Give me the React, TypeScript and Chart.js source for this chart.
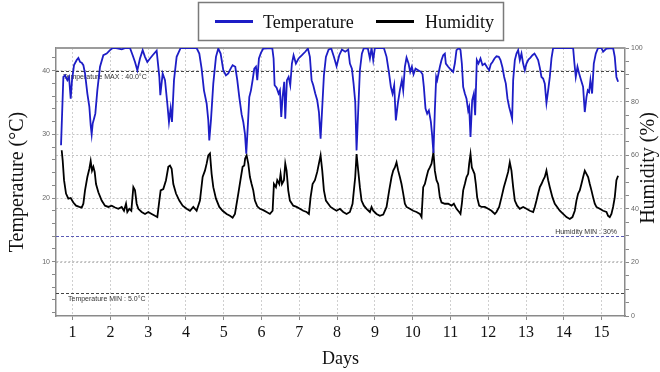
import { useEffect, useRef } from 'react';
import { Chart, registerables } from 'chart.js';

Chart.register(...registerables);

// Legend labels as they appear in the reference
const legendLabels = ['Temperature', 'Humidity'];
const legendColors = ['#1d1dc6', '#000000'];

// Blue series (drawn against the right-hand 0-100 % scale)
const blueDays = [
  0.693, 0.755, 0.799, 0.861, 0.905, 0.949, 0.984, 1.037, 1.108, 1.152, 1.196, 1.24, 1.284, 1.328, 1.39, 1.443,
  1.478, 1.504, 1.531, 1.566, 1.601, 1.654, 1.725, 1.813, 1.901, 1.989, 2.06, 2.15, 2.3, 2.4, 2.518, 2.589,
  2.651, 2.713, 2.783, 2.854, 2.915, 2.977, 3.048, 3.118, 3.224, 3.295, 3.321, 3.383, 3.445, 3.506, 3.55, 3.594,
  3.63, 3.683, 3.753, 3.859, 4.282, 4.353, 4.414, 4.476, 4.547, 4.591, 4.617, 4.661, 4.723, 4.794, 4.855, 4.917,
  4.988, 5.058, 5.12, 5.182, 5.235, 5.305, 5.358, 5.411, 5.473, 5.517, 5.561, 5.596, 5.64, 5.676, 5.72, 5.764,
  5.808, 5.852, 5.887, 5.931, 5.984, 6.046, 6.284, 6.319, 6.346, 6.399, 6.451, 6.487, 6.522, 6.557, 6.601, 6.628,
  6.672, 6.716, 6.76, 6.804, 6.848, 6.91, 6.981, 7.069, 7.157, 7.228, 7.28, 7.325, 7.369, 7.422, 7.474, 7.519,
  7.563, 7.607, 7.651, 7.704, 7.774, 7.845, 7.915, 7.986, 8.057, 8.127, 8.215, 8.295, 8.339, 8.392, 8.436, 8.48,
  8.515, 8.559, 8.603, 8.656, 8.709, 8.815, 8.868, 8.912, 8.956, 9.0, 9.238, 9.309, 9.37, 9.423, 9.467, 9.511,
  9.555, 9.608, 9.661, 9.714, 9.75, 9.794, 9.838, 9.891, 9.935, 9.979, 10.023, 10.076, 10.146, 10.217, 10.261, 10.296,
  10.34, 10.384, 10.429, 10.482, 10.515, 10.55, 10.587, 10.623, 10.649, 10.684, 10.72, 10.764, 10.808, 10.852, 10.878, 10.94,
  10.984, 11.028, 11.072, 11.116, 11.16, 11.231, 11.266, 11.302, 11.337, 11.381, 11.425, 11.469, 11.496, 11.531, 11.575, 11.619,
  11.654, 11.698, 11.742, 11.795, 11.848, 11.91, 11.972, 12.025, 12.069, 12.113, 12.166, 12.219, 12.28, 12.325, 12.377, 12.422,
  12.466, 12.51, 12.554, 12.589, 12.633, 12.66, 12.704, 12.748, 12.792, 12.836, 12.88, 12.924, 12.968, 13.012, 13.065, 13.118,
  13.171, 13.224, 13.277, 13.321, 13.365, 13.409, 13.453, 13.497, 13.541, 13.586, 13.63, 13.674, 13.718, 14.247, 14.282, 14.317,
  14.362, 14.406, 14.458, 14.511, 14.555, 14.6, 14.635, 14.67, 14.705, 14.749, 14.794, 14.847, 14.908, 14.996, 15.04, 15.129,
  15.305, 15.349, 15.393, 15.437,
];
const blueValues = [
  63.7, 89.2, 89.8, 88.0, 89.2, 81.1, 88.0, 93.6, 95.5, 96.3, 94.8, 94.5, 93.6, 90.5, 83.0, 78.0,
  71.2, 67.8, 71.8, 73.6, 75.5, 84.2, 93.0, 97.3, 97.9, 99.2, 100, 100, 99.5, 100, 100, 97.3,
  94.8, 91.7, 96.1, 99.2, 96.7, 94.8, 96.1, 97.3, 99.0, 89.2, 82.4, 90.5, 88.0, 79.3, 72.4, 77.4,
  72.4, 88.0, 96.7, 100, 100, 97.9, 92.3, 84.2, 79.3, 73.0, 65.5, 73.0, 86.7, 96.7, 99.8, 97.9,
  91.7, 89.8, 90.5, 92.3, 93.6, 93.0, 88.0, 81.7, 75.2, 72.4, 68.0, 60.6, 71.8, 81.7, 84.2, 88.0,
  92.3, 93.0, 88.0, 96.1, 98.2, 99.8, 100, 96.1, 86.1, 85.2, 83.0, 84.2, 74.3, 81.7, 87.4, 73.6,
  88.0, 89.2, 86.1, 94.2, 97.3, 94.2, 96.1, 97.3, 98.6, 99.8, 96.7, 88.0, 86.1, 83.0, 80.5, 76.1,
  66.2, 78.0, 89.8, 96.7, 99.4, 99.8, 96.7, 93.2, 97.3, 99.4, 98.6, 99.4, 94.2, 92.3, 86.7, 79.9,
  61.8, 76.7, 91.7, 97.9, 100, 99.8, 96.1, 100, 95.5, 100, 100, 96.7, 91.1, 85.5, 83.0, 86.1,
  73.0, 79.3, 84.2, 88.0, 84.2, 93.0, 96.4, 94.2, 91.1, 93.0, 90.2, 92.3, 91.7, 91.1, 90.2, 85.5,
  77.4, 75.5, 76.7, 72.4, 67.5, 60.8, 76.7, 89.2, 88.0, 90.5, 93.0, 95.5, 97.3, 97.9, 94.2, 93.0,
  92.3, 91.7, 91.1, 94.2, 99.2, 100, 99.2, 94.2, 85.5, 83.0, 81.1, 76.7, 78.0, 66.8, 80.5, 83.0,
  74.9, 95.5, 94.2, 96.1, 93.6, 94.2, 92.7, 91.7, 94.0, 94.8, 96.1, 96.9, 96.7, 95.5, 92.7, 89.2,
  86.7, 81.1, 78.0, 76.1, 73.6, 88.0, 95.5, 97.9, 99.2, 95.5, 97.9, 94.2, 91.7, 94.2, 95.7, 96.4,
  97.3, 97.9, 96.7, 95.5, 92.7, 89.2, 88.6, 86.7, 79.5, 84.2, 89.2, 96.1, 100, 100, 94.2, 89.2,
  93.0, 90.5, 88.0, 85.5, 76.1, 81.7, 84.2, 83.6, 88.0, 83.0, 94.2, 97.9, 100, 100, 98.6, 99.8,
  100, 96.7, 89.2, 87.4,
];

// Black series (drawn against the left-hand °C scale)
const blackDays = [
  0.711, 0.737, 0.773, 0.825, 0.887, 0.949, 1.019, 1.09, 1.178, 1.24, 1.284, 1.328, 1.39, 1.443, 1.478, 1.513,
  1.549, 1.584, 1.619, 1.681, 1.769, 1.857, 1.946, 2.034, 2.122, 2.21, 2.298, 2.36, 2.413, 2.448, 2.501, 2.554,
  2.607, 2.651, 2.695, 2.739, 2.827, 2.916, 3.003, 3.092, 3.18, 3.242, 3.295, 3.33, 3.4, 3.471, 3.533, 3.577,
  3.621, 3.665, 3.736, 3.824, 3.912, 4.018, 4.106, 4.194, 4.282, 4.37, 4.441, 4.502, 4.547, 4.591, 4.635, 4.679,
  4.723, 4.794, 4.882, 4.97, 5.076, 5.164, 5.235, 5.296, 5.385, 5.447, 5.499, 5.543, 5.566, 5.605, 5.649, 5.693,
  5.737, 5.781, 5.825, 5.887, 5.958, 6.046, 6.134, 6.222, 6.293, 6.328, 6.381, 6.416, 6.469, 6.504, 6.54, 6.593,
  6.628, 6.663, 6.707, 6.751, 6.84, 6.928, 7.016, 7.104, 7.192, 7.254, 7.298, 7.351, 7.413, 7.474, 7.518, 7.563,
  7.607, 7.651, 7.704, 7.765, 7.827, 7.898, 7.986, 8.074, 8.162, 8.251, 8.339, 8.409, 8.444, 8.48, 8.515, 8.559,
  8.603, 8.647, 8.709, 8.78, 8.868, 8.912, 8.956, 9.044, 9.132, 9.221, 9.309, 9.379, 9.441, 9.485, 9.529, 9.573,
  9.617, 9.661, 9.705, 9.75, 9.794, 9.838, 9.926, 10.014, 10.102, 10.19, 10.235, 10.279, 10.323, 10.367, 10.411, 10.455,
  10.499, 10.55, 10.587, 10.631, 10.675, 10.72, 10.764, 10.852, 10.94, 11.028, 11.09, 11.16, 11.231, 11.266, 11.302, 11.337,
  11.381, 11.425, 11.469, 11.496, 11.531, 11.566, 11.601, 11.637, 11.672, 11.707, 11.76, 11.822, 11.91, 11.998, 12.086, 12.175,
  12.219, 12.289, 12.351, 12.413, 12.466, 12.527, 12.571, 12.615, 12.66, 12.704, 12.765, 12.836, 12.924, 13.012, 13.101, 13.189,
  13.233, 13.277, 13.321, 13.365, 13.409, 13.453, 13.497, 13.541, 13.586, 13.63, 13.7, 13.762, 13.824, 13.894, 13.982, 14.071,
  14.159, 14.229, 14.291, 14.335, 14.379, 14.423, 14.467, 14.512, 14.556, 14.6, 14.644, 14.688, 14.732, 14.776, 14.82, 14.864,
  14.952, 15.041, 15.129, 15.173, 15.217, 15.261, 15.305, 15.349, 15.393, 15.437,
];
const blackValues = [
  27.5, 25.9, 22.8, 20.7, 19.9, 20.0, 19.3, 18.8, 18.6, 18.5, 19.1, 21.2, 23.3, 24.6, 25.8, 24.3,
  24.9, 24.1, 22.2, 20.9, 19.6, 18.8, 18.6, 18.8, 18.5, 18.3, 18.6, 18.0, 19.1, 17.8, 18.3, 18.0,
  21.7, 21.2, 19.1, 18.3, 17.8, 17.5, 17.8, 17.5, 17.2, 17.0, 19.6, 21.2, 21.4, 22.8, 24.9, 25.1,
  24.6, 22.2, 20.7, 19.6, 18.8, 18.3, 18.0, 18.6, 18.0, 19.6, 23.3, 24.3, 25.4, 26.7, 27.0, 23.8,
  21.7, 19.9, 18.6, 18.0, 17.5, 17.2, 16.9, 17.5, 20.7, 23.0, 24.9, 25.1, 26.2, 26.7, 25.4, 23.3,
  22.2, 21.2, 19.6, 18.7, 18.3, 18.1, 17.8, 17.5, 18.0, 22.2, 21.7, 22.8, 22.2, 23.8, 22.2, 22.8,
  25.4, 24.3, 21.2, 19.6, 18.8, 18.6, 18.3, 18.0, 17.8, 17.5, 20.1, 22.2, 22.8, 24.1, 25.4, 26.7,
  24.3, 21.2, 19.6, 19.1, 18.6, 18.3, 18.0, 18.3, 17.8, 17.5, 17.8, 19.1, 21.2, 23.3, 26.9, 24.3,
  21.7, 19.6, 18.8, 18.3, 17.8, 18.6, 18.0, 17.5, 17.2, 17.4, 18.6, 21.2, 23.3, 24.3, 24.8, 25.6,
  24.3, 23.3, 22.2, 20.7, 19.1, 18.6, 18.3, 18.0, 17.8, 17.5, 17.0, 21.7, 22.2, 23.3, 24.3, 24.8,
  25.4, 27.2, 24.3, 22.8, 22.2, 20.1, 19.3, 19.1, 19.1, 18.8, 19.1, 18.3, 17.8, 17.5, 19.1, 21.2,
  22.2, 23.3, 23.8, 25.4, 26.9, 24.8, 24.3, 23.8, 22.2, 20.1, 18.8, 18.6, 18.6, 18.3, 18.0, 17.5,
  17.8, 18.6, 20.1, 21.7, 22.8, 24.1, 25.6, 24.3, 21.7, 19.6, 18.8, 18.3, 18.6, 18.3, 18.0, 17.8,
  18.6, 19.6, 20.7, 21.7, 22.2, 22.8, 23.3, 24.3, 22.8, 21.7, 20.1, 19.1, 18.6, 18.0, 17.5, 17.0,
  16.7, 17.0, 18.0, 19.6, 20.7, 21.2, 22.2, 23.3, 24.3, 23.8, 23.3, 22.2, 21.2, 20.1, 19.1, 18.6,
  18.3, 18.0, 17.8, 17.2, 17.0, 17.5, 18.6, 20.1, 22.8, 23.5,
];

// Axis ticks / labels
const dayTicks = [1, 2, 3, 4, 5, 6, 7, 8, 9, 10, 11, 12, 13, 14, 15];
const leftLabelValues = [10, 20, 30, 40];
const rightLabelValues = [0, 20, 40, 60, 80, 100];
const leftGridValues = [10, 20, 30, 40];
const rightGridValues = [20, 40, 60, 80];
const axisTitles = ['Temperature (°C)', 'Humidity (%)', 'Days'];

// Reference lines
const refLabels = ['Temperature MAX : 40.0°C', 'Temperature MIN : 5.0°C', 'Humidity MIN : 30%'];
const refValues = [40, 5, 30];
const refAxes = ['y', 'y', 'y1'];

const SERIF = '"Liberation Serif", "Times New Roman", serif';
const SANS = '"Liberation Sans", Arial, sans-serif';

const decorPlugin = {
  id: 'decor',
  beforeDatasetsDraw(chart: any) {
    const { ctx, chartArea: a } = chart;
    ctx.save();
    // top frame line
    ctx.strokeStyle = '#9c9c9c';
    ctx.lineWidth = 2;
    ctx.beginPath();
    ctx.moveTo(a.left, a.top);
    ctx.lineTo(a.right, a.top);
    ctx.stroke();

    refValues.forEach((v, i) => {
      const y = Math.round(chart.scales[refAxes[i]].getPixelForValue(v)) + 0.5;
      ctx.setLineDash([3, 2]);
      ctx.lineWidth = 1;
      ctx.strokeStyle = refAxes[i] === 'y1' ? '#5b5bb5' : '#444444';
      ctx.beginPath();
      ctx.moveTo(a.left, y);
      ctx.lineTo(a.right, y);
      ctx.stroke();
      ctx.setLineDash([]);
      ctx.font = '7px ' + SANS;
      ctx.fillStyle = '#333333';
      if (i === 0) {
        ctx.textAlign = 'left';
        ctx.textBaseline = 'top';
        ctx.fillText(refLabels[i], a.left + 7, y + 2);
      } else if (i === 1) {
        ctx.textAlign = 'left';
        ctx.textBaseline = 'top';
        ctx.fillText(refLabels[i], a.left + 12, y + 2);
      } else {
        ctx.textAlign = 'right';
        ctx.textBaseline = 'bottom';
        ctx.fillText(refLabels[i], a.right - 8, y - 1);
      }
    });
    ctx.restore();
  },
  afterDraw(chart: any) {
    const { ctx } = chart;
    ctx.save();
    // legend box
    ctx.strokeStyle = '#7a7a7a';
    ctx.lineWidth = 1.5;
    ctx.strokeRect(198.5, 2.5, 305, 38);
    const lx = [215, 376];
    const tx = [263, 425];
    ctx.font = '18px ' + SERIF;
    ctx.textAlign = 'left';
    ctx.textBaseline = 'alphabetic';
    legendLabels.forEach((lab, i) => {
      ctx.fillStyle = legendColors[i];
      ctx.fillRect(lx[i], 20, 38, 3);
      ctx.fillStyle = '#111111';
      ctx.fillText(lab, tx[i], 28);
    });
    // right axis title, reading bottom to top
    ctx.translate(649, 168);
    ctx.rotate(-Math.PI / 2);
    ctx.font = '20px ' + SERIF;
    ctx.textAlign = 'center';
    ctx.textBaseline = 'middle';
    ctx.fillStyle = '#111111';
    ctx.fillText(axisTitles[1], 0, 0);
    ctx.restore();
  },
};

export default function App() {
  const ref = useRef<HTMLCanvasElement | null>(null);

  useEffect(() => {
    if (!ref.current) return;
    const chart = new Chart(ref.current, {
      type: 'line',
      data: {
        datasets: [
          {
            label: legendLabels[0],
            data: blueDays.map((d, i) => ({ x: d, y: blueValues[i] })),
            borderColor: legendColors[0],
            backgroundColor: legendColors[0],
            borderWidth: 1.8,
            pointRadius: 0,
            tension: 0,
            yAxisID: 'y1',
          },
          {
            label: legendLabels[1],
            data: blackDays.map((d, i) => ({ x: d, y: blackValues[i] })),
            borderColor: legendColors[1],
            backgroundColor: legendColors[1],
            borderWidth: 1.8,
            pointRadius: 0,
            tension: 0,
            yAxisID: 'y',
          },
        ],
      },
      options: {
        responsive: false,
        animation: false,
        layout: { padding: { top: 48, left: 0, right: 0, bottom: 0 } },
        plugins: { legend: { display: false }, tooltip: { enabled: false } },
        scales: {
          x: {
            type: 'linear',
            position: 'bottom',
            min: 0.56,
            max: 15.62,
            afterFit: (s: any) => {
              s.height = 56;
            },
            ticks: {
              stepSize: 1,
              includeBounds: false,
              autoSkip: false,
              maxRotation: 0,
              padding: 3,
              color: '#111111',
              font: { family: SERIF, size: 16 },
              callback: (v: any) => (dayTicks.includes(v) ? String(v) : ''),
            },
            grid: { color: '#cfcfcf', tickColor: '#888888', tickLength: 4, lineWidth: 1 },
            border: { color: '#8a8a8a', width: 1.5, dash: [2, 2] },
            title: {
              display: true,
              text: axisTitles[2],
              color: '#111111',
              font: { family: SERIF, size: 18 },
              padding: { top: 0, bottom: 2 },
            },
          },
          y: {
            type: 'linear',
            position: 'left',
            min: 1.46,
            max: 43.57,
            afterFit: (s: any) => {
              s.width = 56;
            },
            ticks: {
              stepSize: 2,
              includeBounds: false,
              padding: 2,
              color: '#666666',
              font: { family: SANS, size: 7 },
              callback: (v: any) => (leftLabelValues.includes(v) ? String(v) : ''),
            },
            grid: {
              color: (c: any) => (c.tick && leftGridValues.includes(c.tick.value) ? '#c4c4c4' : 'rgba(0,0,0,0)'),
              tickColor: '#888888',
              tickLength: 4,
            },
            border: { color: '#8a8a8a', width: 1.5, dash: [2, 2] },
            title: {
              display: true,
              text: axisTitles[0],
              color: '#111111',
              font: { family: SERIF, size: 20 },
              padding: { top: 6, bottom: 0 },
            },
          },
          y1: {
            type: 'linear',
            position: 'right',
            min: 0,
            max: 100,
            afterFit: (s: any) => {
              s.width = 35;
            },
            ticks: {
              stepSize: 5,
              padding: 2,
              color: '#666666',
              font: { family: SANS, size: 7 },
              callback: (v: any) => (rightLabelValues.includes(v) ? String(v) : ''),
            },
            grid: {
              color: (c: any) => (c.tick && rightGridValues.includes(c.tick.value) ? '#c4c4c4' : 'rgba(0,0,0,0)'),
              tickColor: '#888888',
              tickLength: 4,
            },
            border: { color: '#8a8a8a', width: 1.5, dash: [2, 2] },
          },
        },
      },
      plugins: [decorPlugin],
    } as any);
    return () => chart.destroy();
  }, []);

  return (
    <div style={{ position: 'fixed', left: 0, top: 0, width: 660, height: 372, background: '#ffffff' }}>
      <canvas ref={ref} width={660} height={372} style={{ display: 'block' }} />
    </div>
  );
}
